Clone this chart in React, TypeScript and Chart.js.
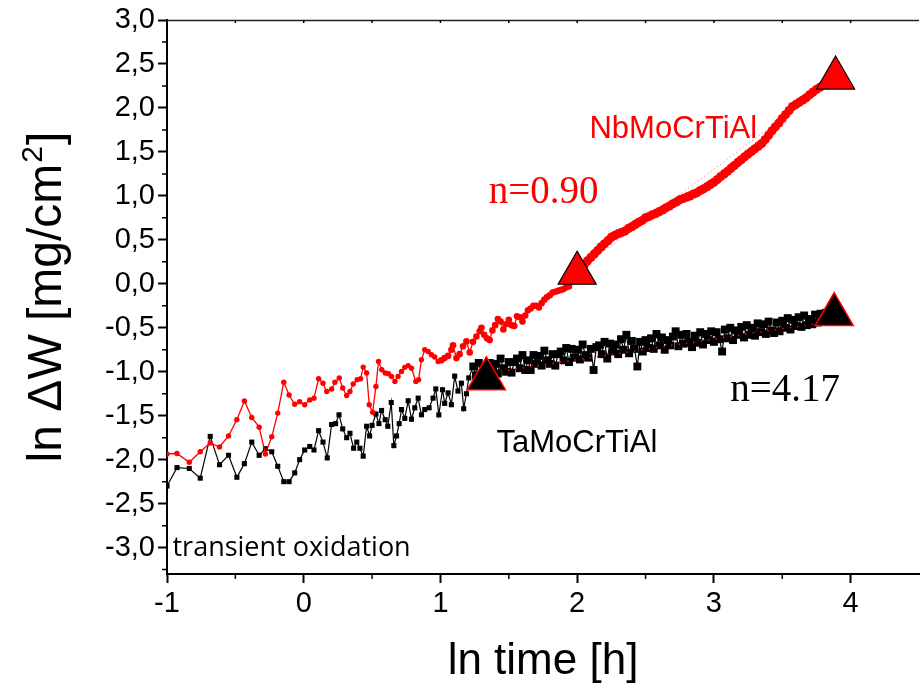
import React, { useEffect, useRef } from 'react';
import { Chart, registerables } from 'chart.js';

Chart.register(...registerables);

// ---------- data (ln time [h], ln ΔW [mg/cm²]) ----------
const nbX = [
  -1.0, -0.927, -0.837, -0.757, -0.684, -0.616, -0.55, -0.489, -0.434, -0.38, -0.326, -0.28, -0.234, -0.19, -0.146,
  -0.107, -0.066, -0.03, 0.007, 0.044, 0.075, 0.109, 0.141, 0.168, 0.204, 0.228, 0.26, 0.285, 0.314, 0.338, 0.362,
  0.391, 0.416, 0.435, 0.46, 0.479, 0.504, 0.528, 0.547, 0.571, 0.596, 0.62, 0.642, 0.667, 0.69, 0.715, 0.739,
  0.764, 0.788, 0.82, 0.84, 0.861, 0.885, 0.91, 0.934, 0.958, 0.983, 1.007, 1.03, 1.056, 1.08, 1.092, 1.117, 1.14,
  1.165, 1.19, 1.214, 1.238, 1.263, 1.287, 1.30, 1.32, 1.34, 1.36, 1.38, 1.40, 1.42, 1.44, 1.46, 1.48, 1.50, 1.52,
  1.54, 1.56, 1.58, 1.60, 1.62, 1.64, 1.66, 1.68, 1.70, 1.72, 1.74, 1.76, 1.78, 1.80, 1.82, 1.84, 1.86, 1.88, 1.90,
  1.92, 1.94, 1.96, 1.98, 2.00, 2.025, 2.05, 2.075, 2.10, 2.125, 2.15, 2.175, 2.20, 2.225, 2.25, 2.275, 2.30, 2.325,
  2.35, 2.375, 2.40, 2.425, 2.45, 2.475, 2.50, 2.525, 2.55, 2.575, 2.60, 2.625, 2.65, 2.675, 2.70, 2.725, 2.75,
  2.775, 2.80, 2.825, 2.85, 2.875, 2.90, 2.925, 2.95, 2.975, 3.00, 3.025, 3.05, 3.075, 3.10, 3.125, 3.15, 3.175,
  3.20, 3.225, 3.25, 3.275, 3.30, 3.325, 3.35, 3.375, 3.40, 3.425, 3.45, 3.475, 3.50, 3.525, 3.55, 3.575, 3.60,
  3.625, 3.65, 3.675, 3.70, 3.725, 3.75, 3.775, 3.80, 3.825, 3.85,
];
const nbY = [
  -1.935, -1.93, -2.03, -1.91, -1.81, -1.856, -1.73, -1.545, -1.333, -1.52, -1.63, -1.935, -1.74, -1.47, -1.12,
  -1.265, -1.37, -1.34, -1.375, -1.32, -1.30, -1.08, -1.13, -1.224, -1.197, -1.12, -1.07, -1.185, -1.27, -1.224, -1.14,
  -1.09, -1.08, -0.947, -1.015, -1.375, -1.46, -1.167, -0.883, -0.977, -1.015, -1.023, -1.053, -1.11, -1.053, -0.997, -0.95,
  -0.93, -0.96, -1.11, -1.09, -0.864, -0.75, -0.77, -0.807, -0.833, -0.883, -0.87, -0.845, -0.82, -0.75, -0.70, -0.845, -0.80,
  -0.71, -0.655, -0.78, -0.66, -0.60, -0.54, -0.50, -0.58, -0.62, -0.64, -0.53, -0.47, -0.40, -0.43, -0.52, -0.46, -0.41, -0.47,
  -0.48, -0.37, -0.38, -0.43, -0.36, -0.30, -0.28, -0.25, -0.25, -0.27, -0.22, -0.18, -0.15, -0.13, -0.10, -0.09, -0.08, -0.07, -0.06,
  -0.04, -0.03, 0.02, 0.07, 0.12, 0.17, 0.21, 0.26, 0.30, 0.34, 0.38, 0.42, 0.455, 0.49, 0.53, 0.55, 0.57, 0.585,
  0.60, 0.63, 0.65, 0.675, 0.70, 0.72, 0.75, 0.765, 0.785, 0.80, 0.82, 0.84, 0.865, 0.885, 0.91, 0.93, 0.955,
  0.97, 0.985, 1.0, 1.02, 1.035, 1.06, 1.08, 1.105, 1.13, 1.155, 1.185, 1.22, 1.25, 1.28, 1.315, 1.345, 1.38,
  1.41, 1.445, 1.475, 1.505, 1.535, 1.565, 1.595, 1.64, 1.69, 1.74, 1.785, 1.83, 1.88, 1.925, 1.97, 2.015, 2.04,
  2.065, 2.09, 2.115, 2.15, 2.18, 2.21, 2.235, 2.26, 2.285, 2.31,
];

const taX = [
  -1.0, -0.927, -0.837, -0.757, -0.684, -0.616, -0.55, -0.489, -0.434, -0.38, -0.326, -0.28, -0.234, -0.19, -0.146,
  -0.107, -0.066, -0.03, 0.007, 0.044, 0.075, 0.109, 0.141, 0.172, 0.204, 0.233, 0.258, 0.285, 0.314, 0.338, 0.365,
  0.388, 0.411, 0.435, 0.46, 0.482, 0.50, 0.528, 0.55, 0.569, 0.596, 0.615, 0.64, 0.659, 0.679, 0.698, 0.715, 0.739,
  0.764, 0.788, 0.812, 0.837, 0.861, 0.885, 0.917, 0.946, 0.966, 0.988, 1.015, 1.031, 1.056, 1.08, 1.104, 1.128,
  1.153, 1.17, 1.19, 1.207,
  1.24, 1.26, 1.28, 1.30, 1.32, 1.34, 1.36, 1.38, 1.40, 1.42, 1.44, 1.46, 1.48, 1.50, 1.52, 1.54, 1.56, 1.58, 1.60,
  1.62, 1.64, 1.66, 1.68, 1.70, 1.72, 1.74, 1.76, 1.78, 1.80, 1.82, 1.84, 1.86, 1.88, 1.90, 1.92, 1.94, 1.96, 1.98,
  2.00, 2.02, 2.04, 2.06, 2.08, 2.10, 2.12, 2.14, 2.16, 2.18, 2.20, 2.22, 2.24, 2.26, 2.28, 2.30, 2.32, 2.34, 2.36,
  2.38, 2.40, 2.42, 2.44, 2.46, 2.48, 2.50, 2.52, 2.54, 2.56, 2.58, 2.60, 2.62, 2.64, 2.66, 2.68, 2.70, 2.72, 2.74,
  2.76, 2.78, 2.80, 2.82, 2.84, 2.86, 2.88, 2.90, 2.92, 2.94, 2.96, 2.98, 3.00, 3.02, 3.04, 3.06, 3.08, 3.10, 3.12,
  3.14, 3.16, 3.18, 3.20, 3.22, 3.24, 3.26, 3.28, 3.30, 3.32, 3.34, 3.36, 3.38, 3.40, 3.42, 3.44, 3.46, 3.48, 3.50,
  3.52, 3.54, 3.56, 3.58, 3.60, 3.62, 3.64, 3.66, 3.68, 3.70, 3.72, 3.74, 3.76, 3.78, 3.80, 3.82, 3.84, 3.86,
];
const taY = [
  -2.30, -2.09, -2.10, -2.21, -1.735, -2.057, -1.95, -2.20, -2.045, -1.80, -1.95, -1.875, -1.91, -2.075, -2.25,
  -2.25, -2.15, -2.00, -1.89, -1.85, -1.89, -1.67, -1.80, -1.98, -1.60, -1.59, -1.49, -1.65, -1.75, -1.70, -1.87,
  -1.80, -1.87, -1.96, -1.62, -1.73, -1.61, -1.48, -1.59, -1.44, -1.545, -1.62, -1.35, -1.84, -1.73, -1.59, -1.43, -1.53,
  -1.33, -1.54, -1.41, -1.30, -1.49, -1.43, -1.41, -1.30, -1.195, -1.49, -1.205, -1.36, -1.24, -1.375, -1.05, -1.22,
  -1.13, -1.42, -1.25, -1.07,
  -0.94, -1.04, -0.90, -1.06, -0.96, -1.07, -0.90, -0.99, -0.91, -1.02, -0.85, -0.96, -1.00, -0.89, -1.01, -0.89, -0.85, -0.96, -0.81,
  -0.98, -0.87, -0.98, -0.81, -0.91, -0.82, -0.93, -0.76, -0.87, -0.91, -0.80, -0.93, -0.80, -0.77, -0.87, -0.73, -0.89, -0.74, -0.84,
  -0.75, -0.86, -0.69, -0.81, -0.84, -0.74, -0.98, -0.72, -0.70, -0.80, -0.66, -0.85, -0.68, -0.77, -0.69, -0.80, -0.63, -0.75, -0.58,
  -0.79, -0.65, -0.74, -0.94, -0.66, -0.77, -0.64, -0.73, -0.62, -0.74, -0.57, -0.70, -0.61, -0.75, -0.64, -0.70, -0.60, -0.54, -0.71,
  -0.58, -0.68, -0.57, -0.66, -0.72, -0.59, -0.67, -0.55, -0.69, -0.57, -0.64, -0.54, -0.66, -0.55, -0.63, -0.77, -0.52, -0.62, -0.50,
  -0.64, -0.53, -0.58, -0.49, -0.61, -0.47, -0.58, -0.50, -0.59, -0.45, -0.55, -0.46, -0.57, -0.43, -0.53, -0.56, -0.44, -0.54, -0.42,
  -0.50, -0.39, -0.52, -0.41, -0.48, -0.38, -0.49, -0.36, -0.47, -0.40, -0.46, -0.35, -0.44, -0.34, -0.43, -0.33, -0.42, -0.37,
];

// Marker triangles and fitted lines
const nbTriX = [2.0, 3.89];
const nbTriY = [0.12, 2.34];
const taTriX = [1.336, 3.88];
const taTriY = [-1.08, -0.35];
const nbFitX = [2.13, 3.82];
const nbFitY = [0.3, 2.25];
const taFitX = [1.33, 3.85];
const taFitY = [-1.02, -0.43];

// Axis ticks
const X_MINOR = [-0.5, 0.5, 1.5, 2.5, 3.5];
const X_TOP = [-0.5, 0, 0.5, 1, 1.5, 2, 2.5, 3, 3.5, 4];
const Y_MINOR = [-3.25, -2.75, -2.25, -1.75, -1.25, -0.75, -0.25, 0.25, 0.75, 1.25, 1.75, 2.25, 2.75];

const toPts = (xs: number[], ys: number[]) => xs.map((x, i) => ({ x, y: ys[i] }));

const LABELS = [
  { text: 'NbMoCrTiAl', x: 2.09, y: 1.66, color: '#ff0000', font: '31px "Liberation Sans"' },
  { text: 'TaMoCrTiAl', x: 1.41, y: -1.91, color: '#000000', font: '31px "Liberation Sans"' },
  { text: 'n=0.90', x: 1.353, y: 0.92, color: '#ff0000', font: '39px "Liberation Serif"' },
  { text: 'n=4.17', x: 3.12, y: -1.33, color: '#000000', font: '39px "Liberation Serif"' },
  { text: 'transient oxidation', x: -0.96, y: -3.09, color: '#000000', font: '27px "Open Sans"' },
];

const framePlugin = {
  id: 'frameTicks',
  afterDraw(chart: any) {
    const { ctx, chartArea, scales } = chart;
    const { left, right, top, bottom } = chartArea;
    const xs = scales.x;
    const ys = scales.y;
    ctx.save();
    ctx.strokeStyle = '#222';
    ctx.lineWidth = 1.5;
    ctx.beginPath();
    ctx.moveTo(left, top + 0.5);
    ctx.lineTo(right, top + 0.5);
    ctx.stroke();
    ctx.strokeStyle = '#000';
    ctx.lineWidth = 1.5;
    ctx.beginPath();
    X_MINOR.forEach((v) => {
      const p = xs.getPixelForValue(v);
      ctx.moveTo(p, bottom);
      ctx.lineTo(p, bottom + 5);
    });
    X_TOP.forEach((v) => {
      const p = xs.getPixelForValue(v);
      ctx.moveTo(p, top);
      ctx.lineTo(p, top + 3);
    });
    Y_MINOR.forEach((v) => {
      const p = ys.getPixelForValue(v);
      ctx.moveTo(left - 5, p);
      ctx.lineTo(left, p);
    });
    ctx.stroke();

    // y-axis title with a real superscript
    const cy = (top + bottom) / 2;
    ctx.translate(48, cy);
    ctx.rotate(-Math.PI / 2);
    ctx.fillStyle = '#000';
    ctx.textBaseline = 'middle';
    ctx.textAlign = 'left';
    const big = '48px "Liberation Sans"';
    const small = '30px "Liberation Sans"';
    const main = 'ln ΔW [mg/cm';
    ctx.font = big;
    const w1 = ctx.measureText(main).width;
    const w3 = ctx.measureText(']').width;
    ctx.font = small;
    const w2 = ctx.measureText('2').width;
    const total = w1 + w2 + w3 + 2;
    let xPos = -total / 2;
    ctx.font = big;
    ctx.fillText(main, xPos, 0);
    xPos += w1 + 1;
    ctx.font = small;
    ctx.fillText('2', xPos, -14);
    xPos += w2 + 1;
    ctx.font = big;
    ctx.fillText(']', xPos, 0);
    ctx.restore();
  },
};

const labelPlugin = {
  id: 'labels',
  afterDatasetsDraw(chart: any) {
    const { ctx, scales } = chart;
    ctx.save();
    ctx.textAlign = 'left';
    ctx.textBaseline = 'alphabetic';
    LABELS.forEach((l) => {
      ctx.font = l.font;
      ctx.fillStyle = l.color;
      ctx.fillText(l.text, scales.x.getPixelForValue(l.x), scales.y.getPixelForValue(l.y));
    });
    ctx.restore();
  },
};

export default function App() {
  const ref = useRef<HTMLCanvasElement | null>(null);

  useEffect(() => {
    if (!ref.current) return;
    const chart = new Chart(ref.current, {
      type: 'scatter',
      data: {
        datasets: [
          {
            label: 'Nb markers',
            data: toPts(nbTriX, nbTriY),
            pointStyle: 'triangle',
            pointRadius: 22,
            backgroundColor: '#ff0000',
            borderColor: '#000000',
            borderWidth: 1.2,
            showLine: false,
          },
          {
            label: 'Ta markers',
            data: toPts(taTriX, taTriY),
            pointStyle: 'triangle',
            pointRadius: 22,
            backgroundColor: '#000000',
            borderColor: '#ff0000',
            borderWidth: 1.5,
            showLine: false,
          },
          {
            label: 'NbMoCrTiAl',
            data: toPts(nbX, nbY),
            showLine: true,
            borderColor: '#ff0000',
            backgroundColor: '#ff0000',
            borderWidth: 1.3,
            pointStyle: 'circle',
            pointRadius: (c: any) => (c.raw && c.raw.x > 2.0 ? 4.6 : c.raw && c.raw.x > 1.0 ? 3.3 : 2.7),
            pointBorderWidth: 0,
          },
          {
            label: 'Ta fit',
            data: toPts(taFitX, taFitY),
            showLine: true,
            borderColor: '#ff0000',
            borderWidth: 1.5,
            borderDash: [1.5, 6],
            pointRadius: 0,
          },
          {
            label: 'Nb fit',
            data: toPts(nbFitX, nbFitY),
            showLine: true,
            borderColor: 'rgba(255,60,60,0.8)',
            borderWidth: 1,
            borderDash: [1, 3],
            pointRadius: 0,
          },
          {
            label: 'TaMoCrTiAl',
            data: toPts(taX, taY),
            showLine: true,
            borderColor: '#000000',
            backgroundColor: '#000000',
            borderWidth: 1.2,
            pointStyle: 'rect',
            pointRadius: (c: any) => (c.raw && c.raw.x > 1.22 ? 5.6 : 3.6),
            pointBorderWidth: 0,
          },
        ],
      },
      options: {
        responsive: false,
        animation: false,
        events: [],
        layout: { autoPadding: false, padding: { top: 20, right: 1, left: 0, bottom: 0 } },
        plugins: {
          legend: { display: false },
          tooltip: { enabled: false },
        },
        scales: {
          x: {
            type: 'linear',
            min: -1,
            max: 4.5,
            afterFit: (s: any) => {
              s.height = 116;
              s.paddingLeft = 0;
              s.paddingRight = 0;
            },
            ticks: {
              stepSize: 1,
              includeBounds: false,
              color: '#000',
              padding: 4,
              font: { family: '"Liberation Sans"', size: 29 },
              callback: (v: any) => String(v),
            },
            grid: { display: true, drawOnChartArea: false, drawTicks: true, tickLength: 9, tickWidth: 2, tickColor: '#000' },
            border: { display: true, color: '#000', width: 2 },
            title: {
              display: true,
              text: 'ln time [h]',
              color: '#000',
              font: { family: '"Liberation Sans"', size: 44, lineHeight: 1 },
              padding: { top: 0, bottom: 6 },
            },
          },
          y: {
            type: 'linear',
            min: -3.3,
            max: 3.0,
            afterFit: (s: any) => {
              s.width = 167;
              s.paddingTop = 0;
              s.paddingBottom = 0;
            },
            ticks: {
              stepSize: 0.5,
              includeBounds: false,
              color: '#000',
              padding: 3,
              font: { family: '"Liberation Sans"', size: 29 },
              callback: (v: any) => Number(v).toFixed(1).replace('.', ',').replace('-0,0', '0,0'),
            },
            grid: { display: true, drawOnChartArea: false, drawTicks: true, tickLength: 9, tickWidth: 2, tickColor: '#000' },
            border: { display: true, color: '#000', width: 2 },
            title: { display: false },
          },
        },
      },
      plugins: [framePlugin, labelPlugin],
    } as any);
    return () => chart.destroy();
  }, []);

  return (
    <div style={{ position: 'fixed', left: 0, top: 0, width: 920, height: 690, background: '#fff' }}>
      <canvas ref={ref} width={920} height={690} style={{ display: 'block', width: 920, height: 690 }} />
    </div>
  );
}
